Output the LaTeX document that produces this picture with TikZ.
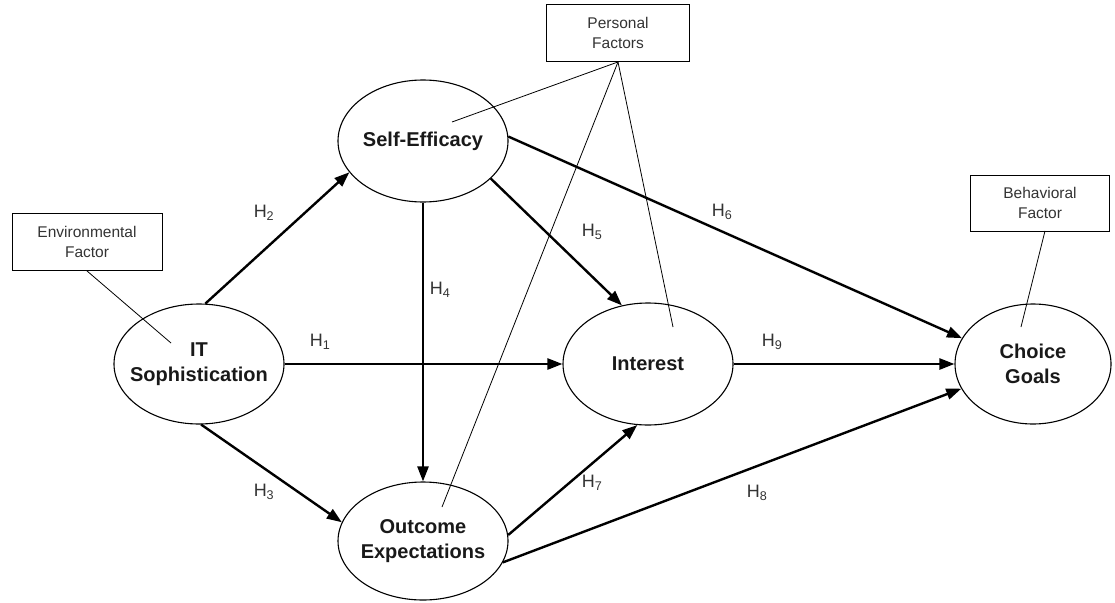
\documentclass[tikz,border=0pt]{standalone}
\usepackage{fontspec}
\setmainfont{Liberation Sans}
\usetikzlibrary{shapes.geometric,arrows.meta}
\begin{document}
\begin{tikzpicture}[x=1pt,y=-1pt,
  construct/.style={ellipse,draw,line width=1.1pt,inner xsep=-30pt,inner ysep=0pt,align=center,font=\fontsize{20}{25}\selectfont\bfseries,text=black!90},
  factor/.style={rectangle,draw,line width=0.9pt,inner sep=0pt,align=center,font=\fontsize{15.5}{20}\selectfont,text=black!80},
  hyp/.style={draw,line width=2.4pt,-{Triangle[length=15pt,width=11pt]}},
  link/.style={draw,line width=0.8pt},
  hlab/.style={font=\fontsize{18}{20}\selectfont,text=black!80}]
\useasboundingbox (0,0) rectangle (1115,602);
% constructs
\node[construct,minimum width=170pt,minimum height=120pt] (it) at (199,364) {IT\\Sophistication};
\node[construct,minimum width=170pt,minimum height=122pt] (se) at (423,141) {Self-Efficacy};
\node[construct,minimum width=170pt,minimum height=118pt] (oe) at (423,541) {Outcome\\Expectations};
\node[construct,minimum width=170pt,minimum height=122pt] (int) at (648,364) {Interest};
\node[construct,minimum width=156pt,minimum height=120pt] (cg) at (1033,364) {Choice\\Goals};
% factor boxes
\node[factor,minimum width=150pt,minimum height=57pt] (env) at (87,242) {Environmental\\Factor};
\node[factor,minimum width=143pt,minimum height=57pt] (pf) at (618,33) {Personal\\Factors};
\node[factor,minimum width=139pt,minimum height=56pt] (beh) at (1040,203) {Behavioral\\Factor};
% free ends of factor links
\coordinate (envEnd) at (171,343);
\coordinate (pfSe) at (452,122);
\coordinate (pfOe) at (442,507);
\coordinate (pfInt) at (673,327);
\coordinate (behEnd) at (1021,327);
\coordinate (behStart) at (1045,231);
\path[link] (env.south) -- (envEnd);
\path[link] (pf.south) -- (pfSe);
\path[link] (pf.south) -- (pfOe);
\path[link] (pf.south) -- (pfInt);
\path[link] (behStart) -- (behEnd);
% hypotheses
\path[hyp] (it.east) -- (int.west);
\path[hyp] (it.84) -- (se.203);
\path[hyp] (it.-88) -- (oe.167);
\path[hyp] (se.south) -- (oe.north);
\path[hyp] (se.-29) -- (int.114);
\path[hyp] (se.3) -- (cg.160);
\path[hyp] (oe.4) -- (int.-100);
\path[hyp] (oe.-15) -- (cg.199);
\path[hyp] (int.east) -- (cg.west);
% labels
\node[hlab] (h1) at (320,342) {H\textsubscript{1}};
\node[hlab] (h2) at (264,213) {H\textsubscript{2}};
\node[hlab] (h3) at (264,492) {H\textsubscript{3}};
\node[hlab] (h4) at (440,290) {H\textsubscript{4}};
\node[hlab] (h5) at (592,232) {H\textsubscript{5}};
\node[hlab] (h6) at (722,212) {H\textsubscript{6}};
\node[hlab] (h7) at (592,483) {H\textsubscript{7}};
\node[hlab] (h8) at (757,493) {H\textsubscript{8}};
\node[hlab] (h9) at (772,342) {H\textsubscript{9}};
\end{tikzpicture}
\end{document}
